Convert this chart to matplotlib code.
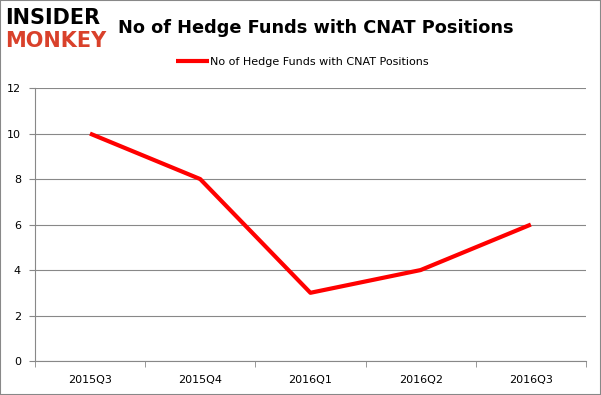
import matplotlib
matplotlib.use("Agg")
import matplotlib.pyplot as plt
from matplotlib.patches import Rectangle

quarters = ["2015Q3", "2015Q4", "2016Q1", "2016Q2", "2016Q3"]
funds = [10, 8, 3, 4, 6]
series_name = "No of Hedge Funds with CNAT Positions"

fig = plt.figure(figsize=(6.01, 3.95), dpi=100)
ax = fig.add_axes([0.058, 0.086, 0.917, 0.691])

x = list(range(len(quarters)))
ax.plot(x, funds, color="#ff0000", linewidth=3, label=series_name, solid_capstyle="butt")

ax.set_xlim(-0.5, len(quarters) - 0.5)
ax.set_ylim(0, 12)
ax.set_yticks(range(0, 13, 2))
ax.set_xticks(x)
ax.set_xticklabels(quarters)
ax.set_xticks([i + 0.5 for i in range(-1, len(quarters))], minor=True)
ax.tick_params(axis="x", which="major", length=0, pad=10, labelsize=8)
ax.tick_params(axis="x", which="minor", length=4, color="#888888")
ax.tick_params(axis="y", length=4, color="#888888", labelsize=8, pad=6)
ax.grid(axis="y", color="#888888", linewidth=0.8)
ax.set_axisbelow(True)
for side in ["top", "right"]:
    ax.spines[side].set_visible(False)
for side in ["left", "bottom"]:
    ax.spines[side].set_color("#888888")

fig.text(0.526, 0.93, series_name, ha="center", va="center",
         fontsize=12.8, fontweight="bold")
ax.legend(loc="center", bbox_to_anchor=(0.485, 1.095), frameon=False,
          fontsize=8, handlelength=3, handletextpad=0.1)

# logo
fig.text(0.008, 0.955, "INSIDER", fontsize=15, fontweight="heavy",
         color="black", va="center", ha="left", family="DejaVu Sans")
fig.text(0.008, 0.895, "MONKEY", fontsize=15, fontweight="heavy",
         color="#d9412b", va="center", ha="left", family="DejaVu Sans")

fig.patches.append(Rectangle((0, 0), 1, 1, transform=fig.transFigure,
                             fill=False, edgecolor="#888888", linewidth=1.5))

fig.savefig("out.png", dpi=100)
